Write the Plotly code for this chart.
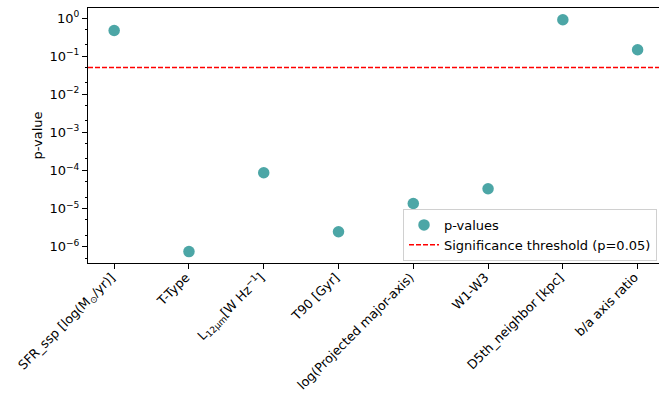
import plotly.graph_objects as go

categories = [
    "SFR_ssp [log(M<sub>⊙</sub>/yr)]",
    "T-Type",
    "L<sub>12μm</sub>[W Hz<sup>−1</sup>]",
    "T90 [Gyr]",
    "log(Projected major-axis)",
    "W1-W3",
    "D5th_neighbor [kpc]",
    "b/a axis ratio",
]
p_values = [0.47, 7.4e-7, 8.7e-5, 2.45e-6, 1.35e-5, 3.3e-5, 0.90, 0.147]
threshold = 0.05
ytick_vals = [1e-6, 1e-5, 1e-4, 1e-3, 1e-2, 1e-1, 1e0]
ytick_text = ["10<sup>−6</sup>", "10<sup>−5</sup>", "10<sup>−4</sup>", "10<sup>−3</sup>",
              "10<sup>−2</sup>", "10<sup>−1</sup>", "10<sup>0</sup>"]

FONT = "DejaVu Sans"
FS = 13
fig = go.Figure()
fig.add_trace(go.Scatter(
    x=categories, y=p_values, mode="markers", name="p-values",
    marker=dict(size=11.5, color="rgba(0,128,128,0.7)", line=dict(width=0)),
))
fig.add_hline(y=threshold, line=dict(color="#ff0000", width=1.5, dash="5px,2px"))
fig.add_trace(go.Scatter(
    x=[None], y=[None], mode="lines", name="Significance threshold (p=0.05)",
    line=dict(color="#ff0000", width=1.5, dash="5px,2px"),
))

fig.update_layout(
    width=659, height=394,
    margin=dict(l=88, r=0, t=8, b=131),
    plot_bgcolor="white", paper_bgcolor="white",
    font=dict(family=FONT, size=FS, color="black"),
    showlegend=True,
    legend=dict(
        x=0.9965, y=0.008, xanchor="right", yanchor="bottom",
        bordercolor="#d0d0d0", borderwidth=1, bgcolor="rgba(255,255,255,0.8)",
        font=dict(family=FONT, size=FS), tracegroupgap=0,
    ),
)
fig.update_xaxes(
    type="category", range=[-0.35, 7.286], automargin=False,
    showline=True, linecolor="black", linewidth=1, mirror=True,
    ticks="outside", ticklen=5, tickcolor="black", tickangle=-45,
    ticklabelstandoff=-4, ticklabelshift=-3,
    showgrid=False, zeroline=False,
    tickfont=dict(family=FONT, size=12.7),
)
fig.update_yaxes(
    type="log", range=[-6.43, 0.263], automargin=False,
    showline=True, linecolor="black", linewidth=1, mirror=False,
    ticks="outside", ticklen=5, tickcolor="black",
    tickvals=ytick_vals, ticktext=ytick_text,
    minor=dict(ticks="outside", ticklen=2.5, tickcolor="black", showgrid=False),
    showgrid=False, zeroline=False,
    title=dict(text="p-value", font=dict(family=FONT, size=FS), standoff=3),
    tickfont=dict(family=FONT, size=FS),
)
fig.write_html(
    "out.html",
    config={"displayModeBar": False},
    post_script="document.body.style.margin='0px';document.body.style.overflow='hidden';",
)
